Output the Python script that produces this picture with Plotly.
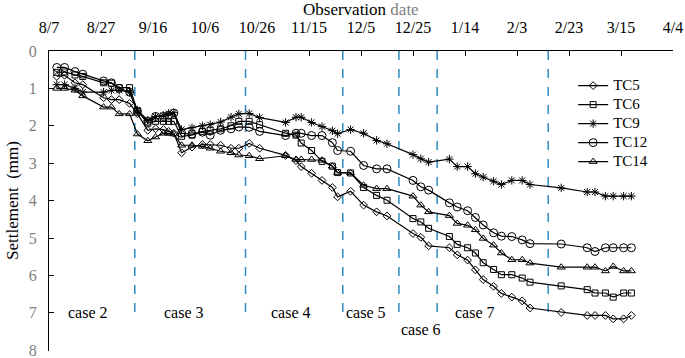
import plotly.graph_objects as go

dates = ["2018-08-10", "2018-08-13", "2018-08-17", "2018-08-20", "2018-08-28", "2018-08-31",
         "2018-09-03", "2018-09-07", "2018-09-10", "2018-09-14", "2018-09-17", "2018-09-20",
         "2018-09-22", "2018-09-24", "2018-09-27", "2018-10-01", "2018-10-05", "2018-10-08",
         "2018-10-12", "2018-10-16", "2018-10-19", "2018-10-23", "2018-10-27", "2018-11-06",
         "2018-11-10", "2018-11-12", "2018-11-16", "2018-11-20", "2018-11-24", "2018-11-26",
         "2018-12-01", "2018-12-06", "2018-12-11", "2018-12-15", "2018-12-25", "2018-12-28",
         "2018-12-31", "2019-01-08", "2019-01-11", "2019-01-15", "2019-01-18", "2019-01-21",
         "2019-01-25", "2019-01-28", "2019-02-01", "2019-02-05", "2019-02-08", "2019-02-20",
         "2019-03-02", "2019-03-05", "2019-03-09", "2019-03-12", "2019-03-16", "2019-03-19"]

tc5 = [0.68, 0.65, 0.85, 0.90, 1.25, 1.30, 1.30, 1.40,
       1.68, 2.12, 2.08, 2.10, 2.15, 2.20, 2.72, 2.57, 2.50, 2.50, 2.52, 2.60, 2.60,
       2.47, 2.60, 2.79, 2.93, 3.09, 3.27, 3.46, 3.65, 3.90,
       3.75, 4.12, 4.30, 4.41,
       4.88, 4.98, 5.21,
       5.26, 5.45, 5.59, 5.85, 6.11, 6.29, 6.48, 6.58, 6.68, 6.87,
       6.99, 7.07, 7.07, 7.07, 7.16, 7.16, 7.07]
tc6 = [0.57, 0.56, 0.64, 0.68, 0.85, 0.86, 0.98, 0.98,
       1.60, 1.93, 1.88, 1.88, 1.88, 1.88, 2.28, 2.25, 2.15, 2.12, 2.08, 2.00, 1.88,
       1.88, 1.97, 2.20, 2.25, 2.46, 2.66, 2.95, 3.08, 3.25,
       3.26, 3.65, 3.86, 3.99,
       4.48, 4.57, 4.74,
       4.96, 5.17, 5.26, 5.40, 5.66, 5.84, 5.98, 5.98, 6.07, 6.18,
       6.28, 6.38, 6.47, 6.47, 6.58, 6.47, 6.47]
tc9 = [0.90, 0.90, 1.00, 1.10, 1.10, 1.05, 1.05, 1.10,
       1.58, 1.85, 1.75, 1.72, 1.67, 1.65, 2.10, 2.05, 2.00, 1.97, 1.90, 1.77, 1.68,
       1.67, 1.78, 1.91, 1.77, 1.77, 1.91, 2.02, 2.13, 2.21,
       2.10, 2.20, 2.39, 2.48,
       2.77, 2.88, 2.97,
       2.89, 3.09, 3.09, 3.28, 3.37, 3.48, 3.57, 3.46, 3.46, 3.57,
       3.66, 3.77, 3.77, 3.88, 3.88, 3.88, 3.88]
tc12 = [0.44, 0.44, 0.55, 0.62, 0.80, 0.85, 1.00, 1.10,
        1.62, 1.88, 1.75, 1.75, 1.72, 1.66, 2.20, 2.22, 2.17, 2.25, 2.12, 2.08, 2.03,
        2.04, 2.15, 2.26, 2.20, 2.20, 2.26, 2.26, 2.45, 2.66,
        2.68, 3.06, 3.15, 3.15,
        3.46, 3.63, 3.72,
        4.06, 4.17, 4.27, 4.45, 4.65, 4.86, 4.95, 4.96, 5.05, 5.15,
        5.16, 5.26, 5.36, 5.26, 5.26, 5.26, 5.26]
tc14 = [1.00, 1.00, 1.05, 1.20, 1.50, 1.50, 1.68, 1.68,
        2.22, 2.40, 2.30, 2.20, 2.20, 2.22, 2.52, 2.52, 2.55, 2.60, 2.68, 2.72, 2.78,
        2.80, 2.88, 2.80, 2.90, 2.90, 2.90, 2.92, 3.08, 3.25,
        3.26, 3.59, 3.68, 3.68,
        3.88, 4.12, 4.30,
        4.40, 4.61, 4.66, 4.78, 5.01, 5.19, 5.40, 5.58, 5.58, 5.67,
        5.78, 5.78, 5.78, 5.88, 5.76, 5.88, 5.88]

series_names = ["TC5", "TC6", "TC9", "TC12", "TC14"]
series_values = [tc5, tc6, tc9, tc12, tc14]

tick_dates = ["2018-08-07", "2018-08-27", "2018-09-16", "2018-10-06", "2018-10-26", "2018-11-15",
              "2018-12-05", "2018-12-25", "2019-01-14", "2019-02-03", "2019-02-23", "2019-03-15",
              "2019-04-04"]
tick_labels = ["8/7", "8/27", "9/16", "10/6", "10/26", "11/15", "12/5", "12/25", "1/14",
               "2/3", "2/23", "3/15", "4/4"]
y_ticks = [0, 1, 2, 3, 4, 5, 6, 7, 8]

boundary_dates = ["2018-09-09", "2018-10-21 14:00", "2018-11-28", "2018-12-19 14:00",
                  "2019-01-03 07:00", "2019-02-15"]
case_labels = ["case 2", "case 3", "case 4", "case 5", "case 6", "case 7"]
case_x = ["2018-08-22", "2018-09-28", "2018-11-08", "2018-12-07", "2018-12-28", "2019-01-18"]
case_y = [7.0, 7.0, 7.0, 7.0, 7.45, 7.0]

FONT = "Liberation Serif, Times New Roman, serif"
symbols = {"TC5": ("diamond-open", 6), "TC6": ("square-open", 6), "TC9": ("asterisk-open", 7),
           "TC12": ("circle-open", 8), "TC14": ("triangle-up-open", 7)}

fig = go.Figure()
for name, vals in zip(series_names, series_values):
    sym, sz = symbols[name]
    fig.add_trace(go.Scatter(
        x=dates, y=vals,
        name="<span style='font-size:15px;font-family:Liberation Serif,serif'>" + name + "</span>",
        mode="lines+markers",
        line=dict(color="black", width=1.2),
        marker=dict(symbol=sym, size=sz, color="black", line=dict(color="black", width=1)),
    ))

for bd in boundary_dates:
    fig.add_shape(type="line", xref="x", yref="y", x0=bd, x1=bd, y0=0, y1=7.15,
                  line=dict(color="#2E8BC0", width=1.5, dash="dash"), layer="below")

for lab, cx, cy in zip(case_labels, case_x, case_y):
    fig.add_annotation(x=cx, y=cy, xref="x", yref="y", text=lab, showarrow=False,
                       font=dict(family=FONT, size=16, color="black"))

fig.add_annotation(x=0.5, y=1, xref="paper", yref="paper", yshift=42,
                   xanchor="center", yanchor="middle",
                   text="Observation <span style='color:#808080'>date</span>",
                   showarrow=False, font=dict(family=FONT, size=17, color="black"))
fig.add_annotation(x=0, y=0.5, xref="paper", yref="paper", xshift=-37, textangle=-90,
                   xanchor="center", yanchor="middle",
                   text="Settlement  (mm)", showarrow=False,
                   font=dict(family=FONT, size=17, color="black"))

fig.update_layout(
    width=685, height=358,
    margin=dict(l=49, r=12, t=51, b=7, autoexpand=False),
    paper_bgcolor="white", plot_bgcolor="white",
    font=dict(family=FONT, size=16, color="black"),
    showlegend=True,
    legend=dict(x=0.84, y=0.933, xanchor="left", yanchor="top", bgcolor="rgba(0,0,0,0)",
                font=dict(family=FONT, size=12, color="black"), tracegroupgap=0,
                itemwidth=30),
    xaxis=dict(type="date", side="top", range=["2018-08-07", "2019-04-04"],
               tickvals=tick_dates, ticktext=tick_labels, ticks="inside", ticklen=5,
               tickcolor="black", showline=True, linecolor="black", linewidth=1,
               showgrid=False, zeroline=False, ticklabelstandoff=11, automargin=False,
               ticklabeloverflow="allow",
               tickfont=dict(family=FONT, size=16, color="black")),
    yaxis=dict(range=[8.02, 0], tickvals=y_ticks, ticks="inside", ticklen=5,
               tickcolor="black", showline=True, linecolor="black", linewidth=1,
               showgrid=False, zeroline=False, ticklabelstandoff=8, automargin=False,
               ticklabeloverflow="allow",
               tickfont=dict(family=FONT, size=16, color="#808080")),
)

fig.write_html("out.html", config={"displayModeBar": False},
               post_script="document.body.style.margin='0';document.body.style.overflow='hidden';")
